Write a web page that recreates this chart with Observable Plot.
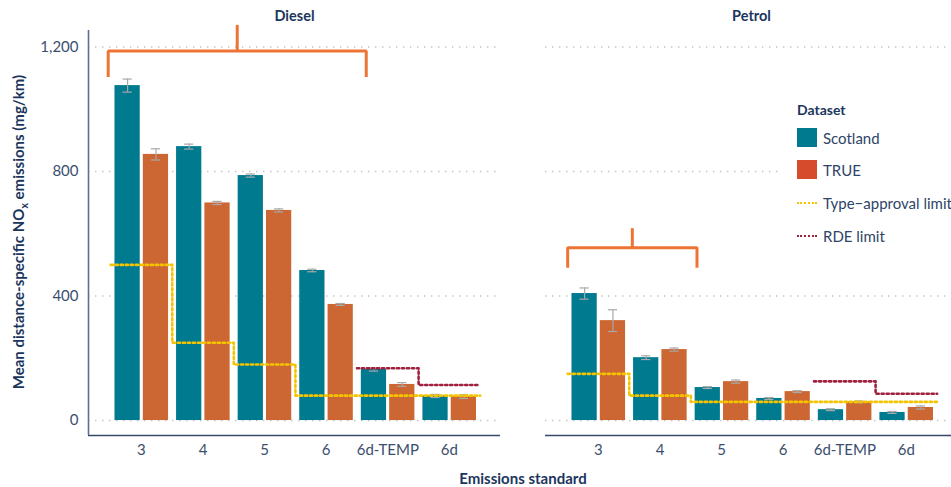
<!DOCTYPE html>
<html><head><meta charset="utf-8">
<script src="https://cdn.jsdelivr.net/npm/d3@7"></script>
<script src="https://cdn.jsdelivr.net/npm/@observablehq/plot@0.6"></script>
<style>
body{margin:0;background:#fff;font-family:Lato,"Open Sans",sans-serif;}
#wrap{position:relative;width:951px;height:487px;overflow:hidden;background:#fff;}
#chart svg{max-width:none !important;display:block;}
#legend{position:absolute;left:782px;top:90px;width:200px;height:165px;background:#fff;color:#2e4468;font-size:15px;}
#legend .t{position:absolute;left:15px;top:11px;font-weight:bold;font-size:14px;color:#1b365d;}
#legend .sw{position:absolute;left:15px;width:20px;height:19px;}
#legend .ln{position:absolute;left:15px;width:20px;height:0;border-top:2.5px dotted;}
#legend .lb{position:absolute;left:41px;white-space:nowrap;line-height:18px;}
</style></head>
<body><div id="wrap"><div id="chart"></div>
<div id="legend">
  <div class="t">Dataset</div>
  <div class="sw" style="top:38px;background:#007a8f"></div><div class="lb" style="top:39px">Scotland</div>
  <div class="sw" style="top:70px;background:#d64b2c"></div><div class="lb" style="top:71px">TRUE</div>
  <div class="ln" style="top:112px;border-color:#f5c400"></div><div class="lb" style="top:104px">Type−approval limit</div>
  <div class="ln" style="top:145px;border-color:#a0203f"></div><div class="lb" style="top:137px">RDE limit</div>
</div>
</div>
<script>
const standards = ["3", "4", "5", "6", "6d-TEMP", "6d"];
const fuels = ["Diesel", "Petrol"];
const datasets = ["Scotland", "TRUE"];

const dieselScotland    = [1076, 880, 787, 482, 164, 79];
const dieselScotlandErr = [21, 8, 5, 4, 5, 5];
const dieselTrue        = [855, 699, 675, 373, 116, 77];
const dieselTrueErr     = [18, 5, 5, 3, 6, 6];
const petrolScotland    = [408, 202, 106, 71, 35, 26];
const petrolScotlandErr = [18, 6, 3, 3, 3, 3];
const petrolTrue        = [321, 228, 125, 93, 60, 42];
const petrolTrueErr     = [35, 5, 5, 3, 3, 5];

const dieselTypeApproval = [500, 250, 180, 80, 80, 80];
const petrolTypeApproval = [150, 80, 60, 60, 60, 60];
const dieselRDE = [null, null, null, null, 168, 114];
const petrolRDE = [null, null, null, null, 126, 86];

const yTicks = [0, 400, 800, 1200];

// significance brackets (x in standard-index units, y in mg/km)
const bracketFuel = ["Diesel", "Petrol"];
const bracketFrom = [-0.54, -0.5];
const bracketTo   = [3.65, 1.6];
const bracketY    = [1187, 555];
const bracketLeg  = [1104, 491];
const bracketTop  = [1271, 618];

const values = {Diesel: {Scotland: dieselScotland, TRUE: dieselTrue}, Petrol: {Scotland: petrolScotland, TRUE: petrolTrue}};
const errors = {Diesel: {Scotland: dieselScotlandErr, TRUE: dieselTrueErr}, Petrol: {Scotland: petrolScotlandErr, TRUE: petrolTrueErr}};
const typeApproval = {Diesel: dieselTypeApproval, Petrol: petrolTypeApproval};
const rde = {Diesel: dieselRDE, Petrol: petrolRDE};

const barOffset = {Scotland: [-0.43, -0.02], TRUE: [0.03, 0.44]};
const rows = [];
fuels.forEach(f => standards.forEach((s, i) => datasets.forEach(ds => {
  const [o1, o2] = barOffset[ds];
  const v = values[f][ds][i], e = errors[f][ds][i];
  rows.push({fuel: f, standard: s, dataset: ds, x1: i + o1, x2: i + o2, xc: i + (o1 + o2) / 2, value: v, lo: v - e, hi: v + e});
})));

function steps(table, name) {
  const pts = [];
  fuels.forEach(f => table[f].forEach((v, i) => {
    if (v == null) return;
    pts.push({fuel: f, series: name + f, x: i - 0.5, y: v});
    pts.push({fuel: f, series: name + f, x: i + 0.5, y: v});
  }));
  return pts;
}
const taPts = steps(typeApproval, "ta");
const rdePts = steps(rde, "rde");

const brPts = [];
bracketFuel.forEach((f, k) => {
  brPts.push({fuel: f, s: "b" + k, x: bracketFrom[k], y: bracketLeg[k]});
  brPts.push({fuel: f, s: "b" + k, x: bracketFrom[k], y: bracketY[k]});
  brPts.push({fuel: f, s: "b" + k, x: bracketTo[k], y: bracketY[k]});
  brPts.push({fuel: f, s: "b" + k, x: bracketTo[k], y: bracketLeg[k]});
  const m = (bracketFrom[k] + bracketTo[k]) / 2;
  brPts.push({fuel: f, s: "t" + k, x: m, y: bracketY[k]});
  brPts.push({fuel: f, s: "t" + k, x: m, y: bracketTop[k]});
});

const xDomain = [-0.86, 5.83];
const yDomain = [-48, 1253];
const tickColor = "#3b4e6e";

const chart = Plot.plot({
  width: 957, height: 487,
  marginLeft: 88, marginRight: 0, marginTop: 30, marginBottom: 52,
  style: {fontFamily: "Lato, 'Open Sans', sans-serif", background: "#fff", maxWidth: "none"},
  fx: {domain: fuels, paddingInner: 0.0985, paddingOuter: 0, axis: null},
  x: {type: "linear", domain: xDomain},
  y: {domain: yDomain},
  color: {domain: datasets, range: ["#007a8f", "#cc6633"]},
  marks: [
    Plot.gridY(yTicks, {stroke: "#c4c4c4", strokeOpacity: 1, strokeWidth: 1.4, strokeDasharray: "1.4,5.6"}),
    Plot.rect(rows, {fx: "fuel", x1: "x1", x2: "x2", y1: 0, y2: "value", fill: "dataset"}),
    Plot.ruleX(rows, {fx: "fuel", x: "xc", y1: "lo", y2: "hi", stroke: "#a9a9a9", strokeWidth: 1.2}),
    Plot.ruleY(rows, {fx: "fuel", y: "lo", x1: d => d.xc - 0.075, x2: d => d.xc + 0.075, stroke: "#a9a9a9", strokeWidth: 1.2}),
    Plot.ruleY(rows, {fx: "fuel", y: "hi", x1: d => d.xc - 0.075, x2: d => d.xc + 0.075, stroke: "#a9a9a9", strokeWidth: 1.2}),
    Plot.line(taPts, {fx: "fuel", x: "x", y: "y", z: "series", stroke: "#f5c400", strokeWidth: 2.6, strokeDasharray: "2.2,2.8"}),
    Plot.line(rdePts, {fx: "fuel", x: "x", y: "y", z: "series", stroke: "#a0203f", strokeWidth: 2.6, strokeDasharray: "2.2,2.8"}),
    Plot.line(brPts, {fx: "fuel", x: "x", y: "y", z: "s", stroke: "#ee7435", strokeWidth: 3, strokeLinejoin: "miter", strokeLinecap: "butt"}),
    Plot.ruleY([yDomain[0]], {stroke: "#34496b", strokeWidth: 1.6}),
    Plot.ruleX([xDomain[0]], {fx: () => "Diesel", stroke: "#5d708f", strokeWidth: 1.6}),
    Plot.text(fuels, {fx: d => d, text: d => d, frameAnchor: "top", lineAnchor: "middle", dy: -14, fontWeight: "bold", fontSize: 14.5, fill: "#1b365d"}),
    Plot.axisX([0, 1, 2, 3, 4, 5], {tickSize: 0, tickPadding: 9, tickFormat: i => standards[i], fontSize: 15, color: tickColor, label: null}),
    Plot.axisY(yTicks, {tickSize: 0, tickPadding: 10, tickFormat: d3.format(","), fontSize: 15, color: tickColor, label: null})
  ]
});
chart.style.maxWidth = "none";
document.getElementById("chart").appendChild(chart);

const svg = d3.select(chart);
const yl = svg.append("text")
  .attr("transform", "translate(24,232) rotate(-90)")
  .attr("text-anchor", "middle")
  .attr("font-family", "Lato, 'Open Sans', sans-serif")
  .attr("font-weight", "bold").attr("font-size", 15).attr("fill", "#1b365d");
yl.append("tspan").text("Mean distance-specific NO");
yl.append("tspan").attr("dy", 4).attr("font-size", 10.5).text("x");
yl.append("tspan").attr("dy", -4).text(" emissions (mg/km)");
svg.append("text")
  .attr("x", 523).attr("y", 484)
  .attr("text-anchor", "middle")
  .attr("font-family", "Lato, 'Open Sans', sans-serif")
  .attr("font-weight", "bold").attr("font-size", 15).attr("fill", "#1b365d")
  .text("Emissions standard");
</script>
</body></html>
